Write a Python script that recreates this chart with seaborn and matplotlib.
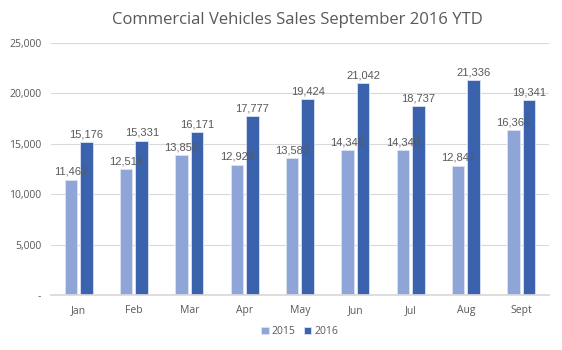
import numpy as np
import pandas as pd
import matplotlib
matplotlib.use("Agg")
import matplotlib.pyplot as plt
import seaborn as sns
from matplotlib.ticker import FuncFormatter

months = ["Jan", "Feb", "Mar", "Apr", "May", "Jun", "Jul", "Aug", "Sept"]
sales_2015 = [11462, 12514, 13855, 12928, 13583, 14345, 14348, 12847, 16366]
sales_2016 = [15176, 15331, 16171, 17777, 19424, 21042, 18737, 21336, 19341]

df = pd.DataFrame({
    "month": months * 2,
    "year": ["2015"] * len(months) + ["2016"] * len(months),
    "sales": sales_2015 + sales_2016,
})

sns.set_theme(style="white")
plt.rcParams["font.family"] = ["Open Sans", "DejaVu Sans"]
grey = "#595959"

fig = plt.figure(figsize=(5.62, 3.5), dpi=100)
ax = fig.add_axes([0.0907, 0.157, 0.886, 0.72])

sns.barplot(data=df, x="month", y="sales", hue="year",
            palette=["#8FA5D7", "#3A62AD"], saturation=1, width=0.56, gap=0.19,
            edgecolor="#DCE3F2", linewidth=0.6, ax=ax)

for cont in ax.containers:
    ax.bar_label(cont, labels=[f"{v:,.0f}" for v in cont.datavalues],
                 padding=2, fontsize=8, color=grey, family="Liberation Sans",
                 zorder=5)

ax.set_ylim(0, 25000)
ax.set_yticks(np.arange(0, 25001, 5000))
ax.yaxis.set_major_formatter(FuncFormatter(lambda v, p: "-" if v == 0 else f"{v:,.0f}"))
ax.grid(axis="y", color="#D9D9D9", linewidth=0.8)
ax.set_axisbelow(True)
for s in ["top", "right", "left"]:
    ax.spines[s].set_visible(False)
ax.spines["bottom"].set_color("#D9D9D9")
ax.tick_params(axis="both", length=0, labelsize=7.5, colors=grey, pad=7)
ax.set_xlabel("")
ax.set_ylabel("")

fig.suptitle("Commercial Vehicles Sales September 2016 YTD", x=0.53, y=0.965,
             fontsize=12, color=grey)

ax.legend(loc="upper center", bbox_to_anchor=(0.5, -0.085), ncol=2, frameon=False,
          fontsize=7.5, labelcolor=grey, handlelength=0.7, handleheight=0.7,
          handletextpad=0.3, columnspacing=0.8)

fig.savefig("out.png", dpi=100)
